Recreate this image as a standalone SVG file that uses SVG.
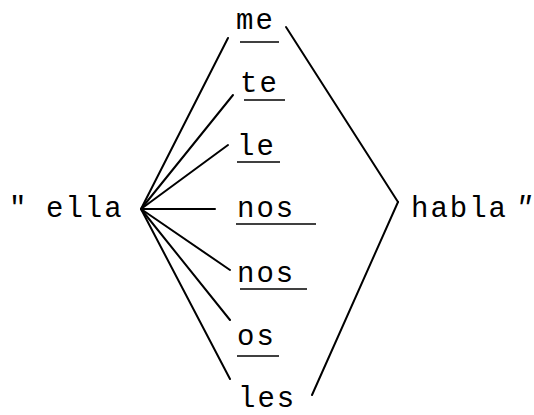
<svg xmlns="http://www.w3.org/2000/svg" width="534" height="415" viewBox="0 0 534 415">
<style>
text{font-family:"Liberation Mono","Courier New",monospace;font-size:29px;fill:#000;letter-spacing:2px}
.c line{stroke:#000;stroke-width:2;stroke-linecap:round}
.u{stroke:#000;stroke-width:1.6}
</style>
<rect width="534" height="415" fill="#fff"/>
<g id="ella"><text x="9" y="217">"</text><text x="46" y="217">ella</text></g>
<g id="habla"><text x="411" y="217">habla</text><text x="515" y="217" font-style="italic" letter-spacing="0">"</text></g>
<g id="me"><text x="236" y="29">me</text><line class="u" x1="240" y1="42" x2="279" y2="42"/></g>
<g id="te"><text x="240" y="92">te</text><line class="u" x1="244" y1="100" x2="285" y2="100"/></g>
<g id="le"><text x="237" y="155">le</text><line class="u" x1="237" y1="162" x2="280" y2="162"/></g>
<g id="nos1"><text x="237" y="217">nos</text><line class="u" x1="236" y1="224" x2="316" y2="224"/></g>
<g id="nos2"><text x="237" y="282">nos</text><line class="u" x1="240" y1="289" x2="307" y2="289"/></g>
<g id="os"><text x="237" y="345">os</text><line class="u" x1="237" y1="356" x2="279" y2="356"/></g>
<g id="les"><text x="238" y="407">les</text></g>
<g id="connectors" class="c">
<line x1="141" y1="209" x2="228" y2="38"/>
<line x1="141" y1="209" x2="233" y2="95"/>
<line x1="141" y1="209" x2="228" y2="145"/>
<line x1="141" y1="209" x2="215" y2="209"/>
<line x1="141" y1="209" x2="230" y2="270"/>
<line x1="141" y1="209" x2="230" y2="320"/>
<line x1="141" y1="209" x2="230" y2="379"/>
<line x1="286" y1="27" x2="398" y2="202"/>
<line x1="398" y1="202" x2="312" y2="395"/>
</g>
</svg>
